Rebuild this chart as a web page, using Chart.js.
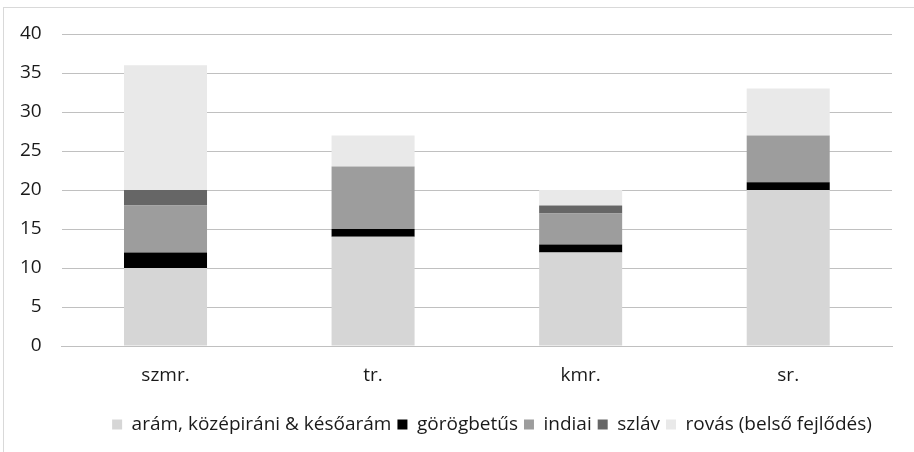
<!DOCTYPE html>
<html>
<head>
<meta charset="utf-8">
<script src="https://cdn.jsdelivr.net/npm/chart.js@4"></script>
<style>
  body { margin: 0; background: #fff; }
  #frame { position: absolute; left: 3px; top: 7px; width: 920px; height: 460px; border: 1px solid #d9d9d9; }
  #wrap { position: absolute; left: 0; top: 0; width: 914px; height: 452px; }
</style>
</head>
<body>
<div id="frame"></div>
<div id="wrap"><canvas id="myChart" width="914" height="452"></canvas></div>
<script>
const categories = ["szmr.", "tr.", "kmr.", "sr."];
const aram = [10, 14, 12, 20];
const gorog = [2, 1, 1, 1];
const indiai = [6, 8, 4, 6];
const szlav = [2, 0, 1, 0];
const rovas = [16, 4, 2, 6];

const ctx = document.getElementById("myChart");
Chart.defaults.font.family = "'Open Sans', sans-serif";
Chart.defaults.font.size = 19;
Chart.defaults.color = "#1a1a1a";

// nudge the legend row a bit to the right of the canvas centre
const shiftLegend = {
  id: "shiftLegend",
  afterLayout(chart) {
    chart.legend.left += 46;
    chart.legend.right += 46;
  },
};

new Chart(ctx, {
  type: "bar",
  data: {
    labels: categories,
    datasets: [
      { label: "arám, középiráni & későarám", data: aram, backgroundColor: "#d6d6d6" },
      { label: "görögbetűs", data: gorog, backgroundColor: "#000000" },
      { label: "indiai", data: indiai, backgroundColor: "#9d9d9d" },
      { label: "szláv", data: szlav, backgroundColor: "#666666" },
      { label: "rovás (belső fejlődés)", data: rovas, backgroundColor: "#e9e9e9" },
    ],
  },
  options: {
    responsive: false,
    animation: false,
    layout: { padding: { left: 0, right: 22, top: 34, bottom: 8 } },
    datasets: { bar: { barPercentage: 0.4, categoryPercentage: 1 } },
    plugins: {
      tooltip: { enabled: false },
      legend: {
        position: "bottom",
        labels: { boxWidth: 10, boxHeight: 10, padding: 6, color: "#1a1a1a" },
      },
    },
    scales: {
      x: {
        stacked: true,
        grid: { display: false },
        border: { color: "#c0c0c0" },
        ticks: { padding: 10 },
        afterFit: (scale) => { scale.height = 63; },
      },
      y: {
        stacked: true,
        min: 0,
        max: 40,
        ticks: { stepSize: 5, padding: 20 },
        grid: { color: "#c0c0c0", drawTicks: false },
        border: { display: false },
      },
    },
  },
  plugins: [shiftLegend],
});
</script>
</body>
</html>
